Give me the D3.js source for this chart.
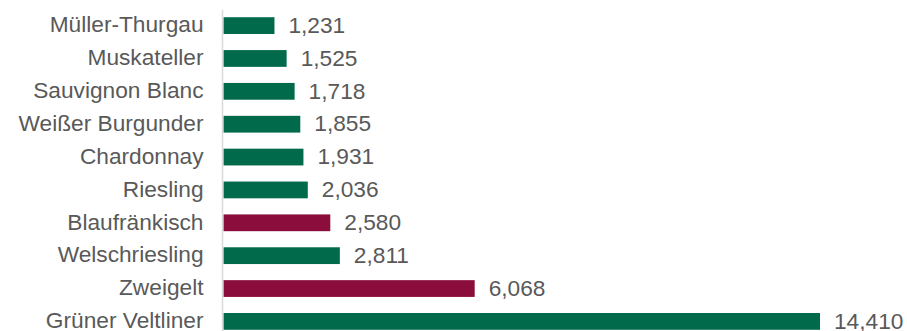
<!DOCTYPE html>
<html>
<head>
<meta charset="utf-8">
<script src="https://cdn.jsdelivr.net/npm/d3@7"></script>
<style>
  html, body { margin: 0; padding: 0; background: #ffffff; }
  svg { display: block; }
  text { font-family: "Liberation Sans", Arial, sans-serif; fill: #595959; }
</style>
</head>
<body>
<svg id="chart" width="907" height="331"></svg>
<script>
// Vineyard area by grape variety (hectares)
const varieties = [
  "Müller-Thurgau", "Muskateller", "Sauvignon Blanc", "Weißer Burgunder ",
  "Chardonnay", "Riesling", "Blaufränkisch", "Welschriesling",
  "Zweigelt", "Grüner Veltliner"
];
const hectares = [1231, 1525, 1718, 1855, 1931, 2036, 2580, 2811, 6068, 14410];
const wineType = ["white", "white", "white", "white", "white", "white", "red", "white", "red", "white"];

const colors = { white: "#006A4A", red: "#8A0D3B" };

const rows = varieties.map((v, i) => ({ name: v, value: hectares[i], type: wineType[i] }));

const svg = d3.select("#chart");
const x0 = 223.5;
const fontSize = "22.7px";

const x = d3.scaleLinear()
  .domain([0, 14410])
  .range([x0, 820]);

const y = d3.scaleBand()
  .domain(varieties)
  .range([9, 338])
  .paddingInner(0.49)
  .paddingOuter(0.25);

// bars
svg.append("g")
  .selectAll("rect")
  .data(rows)
  .join("rect")
  .attr("x", x(0))
  .attr("y", d => y(d.name))
  .attr("width", d => x(d.value) - x(0))
  .attr("height", y.bandwidth())
  .attr("fill", d => colors[d.type]);

// category axis line
svg.append("line")
  .attr("x1", x0 - 1).attr("x2", x0 - 1)
  .attr("y1", 10).attr("y2", 331)
  .attr("stroke", "#d9d9d9")
  .attr("stroke-width", 1.5);

// category labels
const yAxis = d3.axisLeft(y).tickSize(0).tickPadding(0);
const ga = svg.append("g")
  .attr("transform", `translate(${x0 - 20},0)`)
  .call(yAxis);
ga.select(".domain").remove();
ga.selectAll("text")
  .attr("font-size", fontSize)
  .attr("font-family", "Liberation Sans, Arial, sans-serif")
  .attr("fill", "#595959")
  .attr("dy", "0.3em");

// value labels
const fmt = d3.format(",");
svg.append("g")
  .selectAll("text")
  .data(rows)
  .join("text")
  .attr("x", d => x(d.value) + 14)
  .attr("y", d => y(d.name) + y.bandwidth() / 2)
  .attr("dy", "0.32em")
  .attr("font-size", fontSize)
  .text(d => fmt(d.value));
</script>
</body>
</html>
